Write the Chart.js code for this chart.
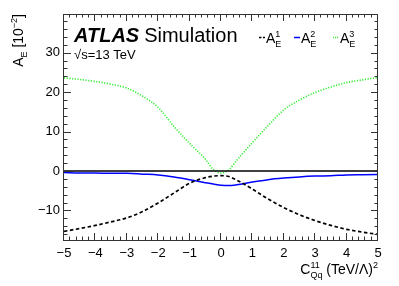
<!DOCTYPE html>
<html>
<head>
<meta charset="utf-8">
<script src="https://cdn.jsdelivr.net/npm/chart.js@4.4.0/dist/chart.umd.min.js"></script>
<style>
    html, body { margin: 0; padding: 0; background: #fff; }
    canvas { display: block; }
</style>
</head>
<body>
<canvas id="chart" width="399" height="286"></canvas>
<script>
// values (units of 10^-2)
const xValues = [-5, -4.5, -4, -3.5, -3, -2.5, -2, -1.5, -1, -0.5, -0.25, 0, 0.25, 0.5, 1, 1.5, 2, 2.5, 3, 3.5, 4, 4.5, 5];
const a1Values = [-15.3, -14.6, -13.8, -12.9, -11.9, -10.3, -8.1, -5.6, -3.1, -1.7, -1.3, -1.2, -1.4, -2.3, -4.6, -7.1, -9.3, -11.1, -12.6, -13.8, -14.8, -15.5, -16.1];
const a2Values = [-0.4, -0.5, -0.5, -0.6, -0.6, -0.8, -1.0, -1.5, -2.2, -3.0, -3.3, -3.6, -3.7, -3.5, -2.8, -2.2, -1.8, -1.5, -1.3, -1.2, -1.0, -0.95, -0.9];
const a3Values = [23.6, 23.2, 22.7, 22.0, 21.0, 19.0, 16.1, 11.3, 7.0, 3.0, 0.4, -0.5, 0.3, 2.7, 7.2, 11.5, 15.5, 18.0, 19.9, 21.3, 22.4, 23.1, 23.7];
const zeroX = [-5, 5];
const zeroY = [0, 0];
const xTicks = [-5, -4, -3, -2, -1, 0, 1, 2, 3, 4, 5];
const yTicks = [-10, 0, 10, 20, 30];

const FONT = '"Liberation Sans", Arial, Helvetica, sans-serif';

function pts(xs, ys) {
    return xs.map((x, i) => ({ x: x, y: ys[i] }));
}
function minus(v) {
    return String(v).replace('-', '\u2212');
}

// little helper for sub/superscripts, ROOT style
function setFont(ctx, p) {
    ctx.font = (p.f || '') + ' ' + p.s + 'px ' + FONT;
}
function partWidth(ctx, p) {
    if (p.sub) {
        setFont(ctx, p.sub);
        var w1 = ctx.measureText(p.sub.t).width;
        setFont(ctx, p.sup);
        var w2 = ctx.measureText(p.sup.t).width;
        return Math.max(w1, w2);
    }
    setFont(ctx, p);
    return ctx.measureText(p.t).width;
}
function richWidth(ctx, parts) {
    return parts.reduce((w, p) => w + partWidth(ctx, p), 0);
}
function drawRich(ctx, parts, x, y) {
    parts.forEach(p => {
        var w = partWidth(ctx, p);
        if (p.sub) {
            [p.sub, p.sup].forEach(q => {
                setFont(ctx, q);
                ctx.fillText(q.t, x, y + q.dy);
            });
        } else {
            setFont(ctx, p);
            ctx.fillText(p.t, x, y + (p.dy || 0));
        }
        x += w;
    });
}
function aE(n) {
    return [{ t: 'A', s: 14 }, { sub: { t: 'E', s: 9, dy: 4 }, sup: { t: String(n), s: 9, dy: -6 } }];
}

const framePlugin = {
    id: 'frame',
    afterDatasetsDraw(chart) {
        const ctx = chart.ctx, a = chart.chartArea;
        const x = chart.scales.x, y = chart.scales.y;
        ctx.save();
        ctx.strokeStyle = '#333';
        ctx.lineWidth = 1;
        ctx.setLineDash([]);
        ctx.strokeRect(a.left - 0.5, a.top + 0.5, a.right - a.left, a.bottom - a.top);

        ctx.beginPath();
        // x ticks, bottom and top, pointing inside
        for (var i = -25; i <= 25; i++) {
            var px = Math.round(x.getPixelForValue(i / 5)) - 0.5;
            var len = i % 5 === 0 ? 7 : 3.5;
            ctx.moveTo(px, a.bottom);
            ctx.lineTo(px, a.bottom - len);
            ctx.moveTo(px, a.top);
            ctx.lineTo(px, a.top + len);
        }
        // y ticks, left and right
        for (var j = -8; j <= 19; j++) {
            var v = j * 2;
            var py = Math.round(y.getPixelForValue(v)) + 0.5;
            var l = v % 10 === 0 ? 7 : 3.5;
            ctx.moveTo(a.left, py);
            ctx.lineTo(a.left + l, py);
            ctx.moveTo(a.right, py);
            ctx.lineTo(a.right - l, py);
        }
        ctx.stroke();
        ctx.restore();
    },
    afterDraw(chart) {
        const ctx = chart.ctx, a = chart.chartArea;
        ctx.save();
        ctx.fillStyle = '#000';
        ctx.textBaseline = 'alphabetic';
        ctx.textAlign = 'left';

        // ATLAS label
        ctx.font = 'bold italic 20px ' + FONT;
        ctx.fillText('ATLAS', 74, 42);
        var w = ctx.measureText('ATLAS').width;
        ctx.font = '20px ' + FONT;
        ctx.fillText('Simulation', 74 + w + 5, 42);
        ctx.font = '13px ' + FONT;
        ctx.fillText('\u221As=13 TeV', 74, 59);

        // legend
        var items = [
            { x0: 259, color: '#000', dash: [2.5, 1.5], width: 1.5, n: 1 },
            { x0: 294, color: '#0000ff', dash: [], width: 1.5, n: 2 },
            { x0: 333, color: '#33ee33', dash: [1, 1], width: 1.5, n: 3 }
        ];
        items.forEach(it => {
            ctx.beginPath();
            ctx.strokeStyle = it.color;
            ctx.lineWidth = it.width;
            ctx.setLineDash(it.dash);
            ctx.moveTo(it.x0, 37.5);
            ctx.lineTo(it.x0 + 6, 37.5);
            ctx.stroke();
            ctx.setLineDash([]);
            drawRich(ctx, aE(it.n), it.x0 + 7, 43);
        });

        // y title, rotated, ending at the top of the frame
        var yTitle = [
            { t: 'A', s: 14 },
            { t: 'E', s: 9, dy: 4 },
            { t: ' [10', s: 14 },
            { t: '\u22122', s: 9, dy: -6 },
            { t: ']', s: 14 }
        ];
        ctx.save();
        ctx.translate(23, a.top);
        ctx.rotate(-Math.PI / 2);
        drawRich(ctx, yTitle, -richWidth(ctx, yTitle), 0);
        ctx.restore();

        // x title, right aligned
        var xTitle = [
            { t: 'C', s: 14 },
            { sub: { t: 'Qq', s: 9, dy: 4 }, sup: { t: '11', s: 9, dy: -6 } },
            { t: ' (TeV/\u039B)', s: 14 },
            { t: '2', s: 9, dy: -6 }
        ];
        drawRich(ctx, xTitle, a.right - richWidth(ctx, xTitle), 274);
        ctx.restore();
    }
};

new Chart(document.getElementById('chart'), {
    type: 'line',
    data: {
        datasets: [
            {
                data: pts(zeroX, zeroY),
                borderColor: '#000',
                borderWidth: 1.5,
            },
            {
                data: pts(xValues, a1Values),
                borderColor: '#000',
                borderDash: [3.5, 2.5],
                borderWidth: 1.7,
            },
            {
                data: pts(xValues, a2Values),
                borderColor: '#0000ff',
                borderWidth: 1.5,
            },
            {
                data: pts(xValues, a3Values),
                borderColor: '#33ee33',
                borderDash: [1.2, 1.5],
                borderWidth: 1.6,
            },
        ],
    },
    options: {
        responsive: false,
        animation: false,
        devicePixelRatio: 1,
        layout: { padding: { top: 14, right: 21, left: 0, bottom: 0 } },
        elements: {
            point: { radius: 0 },
            line: { cubicInterpolationMode: 'monotone', fill: false },
        },
        plugins: {
            legend: { display: false },
            tooltip: { enabled: false },
        },
        scales: {
            x: {
                type: 'linear',
                min: -5,
                max: 5,
                grid: { display: false, drawTicks: false },
                border: { display: false },
                afterBuildTicks: s => { s.ticks = xTicks.map(v => ({ value: v })); },
                afterFit: s => { s.height = 46; },
                ticks: {
                    padding: 6,
                    color: '#000',
                    autoSkip: false,
                    maxRotation: 0,
                    font: { family: FONT, size: 13 },
                    callback: v => minus(v),
                },
            },
            y: {
                min: -17.5,
                max: 39.8,
                grid: { display: false, drawTicks: false },
                border: { display: false },
                afterBuildTicks: s => { s.ticks = yTicks.map(v => ({ value: v })); },
                afterFit: s => { s.width = 64; },
                ticks: {
                    padding: 4,
                    color: '#000',
                    font: { family: FONT, size: 13 },
                    callback: v => minus(v),
                },
            },
        },
    },
    plugins: [framePlugin],
});
</script>
</body>
</html>
